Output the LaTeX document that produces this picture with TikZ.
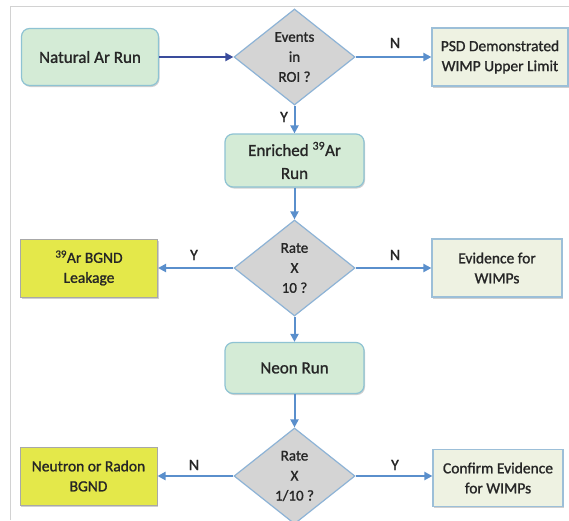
\documentclass[tikz,border=0pt]{standalone}
\usepackage{fontspec}
\setmainfont{Carlito}[FakeBold=1.2]
\newfontfamily\semib{Carlito}[FakeBold=1.2]
\usetikzlibrary{shapes.geometric,arrows.meta,shadows}
\definecolor{greenfill}{HTML}{D4EBD6}
\definecolor{greenedge}{HTML}{8EC3D3}
\definecolor{palefill}{HTML}{EEF2E2}
\definecolor{paleedge}{HTML}{9CBFD8}
\definecolor{yellowfill}{HTML}{E4E84A}
\definecolor{yellowedge}{HTML}{A8A8A8}
\definecolor{diafill}{HTML}{D4D4D4}
\definecolor{diaedge}{HTML}{8DB3D6}
\definecolor{arrowblue}{HTML}{5A8FCC}
\definecolor{arrownavy}{HTML}{3A4C9C}
\definecolor{framec}{HTML}{D2D2D2}
\definecolor{txt}{HTML}{262626}
\begin{document}
\begin{tikzpicture}[x=1pt,y=-1pt,
  shade/.style={drop shadow={shadow xshift=1pt,shadow yshift=-1.5pt,opacity=0.3,fill=black!60}},
  greenbox/.style={draw=greenedge,fill=greenfill,line width=1.2pt,rounded corners=8pt,
    text=txt,align=center,font=\semib\fontsize{17}{23}\selectfont,shade},
  palebox/.style={draw=paleedge,fill=palefill,line width=1.2pt,
    text=txt,align=center,font=\semib\fontsize{15.5}{20}\selectfont,shade},
  yellowbox/.style={draw=yellowedge,fill=yellowfill,line width=1pt,
    text=txt,align=center,font=\semib\fontsize{15.5}{20}\selectfont,shade},
  decision/.style={diamond,draw=diaedge,fill=diafill,line width=1.2pt,inner sep=0pt,
    minimum width=121pt,minimum height=96pt},
  dtext/.style={text=txt,align=center,font=\semib\fontsize{15}{20}\selectfont},
  flow/.style={draw=arrowblue,line width=2pt,-{Triangle[length=8pt,width=8pt]}},
  yn/.style={text=txt,font=\semib\fontsize{16}{17}\selectfont}]
\useasboundingbox (0,0) rectangle (569,520);
\clip (0,0) rectangle (569,520);
\fill[white] (0,0) rectangle (569,520);
\draw[framec,line width=1pt] (10,520) -- (10,6) -- (569,6);

\node[greenbox,minimum width=137pt,minimum height=57pt] (nat) at (90,57) {Natural Ar Run};
\node[decision] (d1) at (294.5,57) {};
\node[dtext] (d1t) at (d1.center) {Events\\in\\ROI ?};
\node[palebox,minimum width=136pt,minimum height=58pt] (psd) at (500,57) {PSD Demonstrated\\WIMP Upper Limit};

\node[greenbox,minimum width=139pt,minimum height=53pt] (enr) at (294.5,160.5) {Enriched \textsuperscript{39}Ar\\Run};

\node[decision] (d2) at (294.5,268) {};
\node[dtext] (d2t) at (d2.center) {Rate\\X\\10 ?};
\node[yellowbox,minimum width=137pt,minimum height=58pt] (leak) at (89,268) {\textsuperscript{39}Ar BGND\\Leakage};
\node[palebox,minimum width=130pt,minimum height=58pt] (evid) at (497,268) {Evidence for\\WIMPs};

\node[greenbox,minimum width=139pt,minimum height=51pt] (neon) at (294.5,368) {Neon Run};

\node[decision] (d3) at (294.5,476) {};
\node[dtext] (d3t) at (d3.center) {Rate\\X\\1/10 ?};
\node[yellowbox,minimum width=137pt,minimum height=58pt] (neut) at (88.5,476) {Neutron or Radon\\BGND};
\node[palebox,minimum width=130pt,minimum height=57pt] (conf) at (498,478) {Confirm Evidence\\for WIMPs};

\draw[flow,draw=arrownavy] (nat.east) -- (d1.west);
\draw[flow] (d1.east) -- (psd.west);
\draw[flow] (d1.south) -- (enr.north);
\draw[flow] (enr.south) -- (d2.north);
\draw[flow] (d2.west) -- (leak.east);
\draw[flow] (d2.east) -- (evid.west);
\draw[flow] (d2.south) -- (neon.north);
\draw[flow] (neon.south) -- (d3.north);
\draw[flow] (d3.west) -- (neut.east |- d3.west);
\draw[flow] (d3.east) -- (conf.west |- d3.east);

\node[yn] (l1) at (395,43) {N};
\node[yn] (l2) at (284,117) {Y};
\node[yn] (l3) at (194,255) {Y};
\node[yn] (l4) at (395,255) {N};
\node[yn] (l5) at (194,465) {N};
\node[yn] (l6) at (395,465) {Y};
\end{tikzpicture}
\end{document}
